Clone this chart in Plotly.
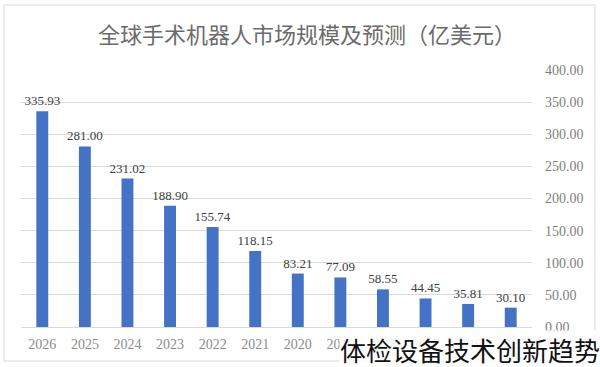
import plotly.graph_objects as go

years = ["2015", "2016", "2017", "2018", "2019", "2020", "2021", "2022", "2023", "2024", "2025", "2026"]
values = [30.10, 35.81, 44.45, 58.55, 77.09, 83.21, 118.15, 155.74, 188.90, 231.02, 281.00, 335.93]
title_text = "全球手术机器人市场规模及预测（亿美元）"
watermark = "体检设备技术创新趋势"

fig = go.Figure()
fig.add_trace(go.Bar(
    x=years, y=values,
    marker=dict(color="#4472C4", line=dict(width=0)),
    text=[f"{v:.2f}" for v in values],
    textposition="outside",
    constraintext="none",
    textfont=dict(size=13, color="#404040", family="Liberation Serif"),
    cliponaxis=False,
))

fig.update_layout(
    width=600, height=367,
    margin=dict(l=21, r=68, t=70, b=40),
    paper_bgcolor="white", plot_bgcolor="white",
    bargap=0.72,
    showlegend=False,
    title=dict(text=title_text, x=(307) / 600, xanchor="center", y=1 - 35 / 367, yanchor="middle",
               font=dict(size=22, color="#6b6b6b", family="Noto Sans CJK SC")),
    xaxis=dict(autorange="reversed", showgrid=False, showline=True, linecolor="#d9d9d9",
               ticks="", ticklabelstandoff=4,
               tickfont=dict(size=14, color="#8c8c8c", family="Liberation Serif")),
    yaxis=dict(side="right", range=[0, 400], dtick=50, tickformat=".2f",
               showgrid=True, gridcolor="#d9d9d9", zeroline=False, showline=False,
               ticks="", ticklabelstandoff=12,
               tickfont=dict(size=14, color="#7f7f7f", family="Liberation Serif")),
)

fig.add_shape(type="rect", xref="paper", yref="paper",
              x0=(4 - 21) / 511, x1=(595 - 21) / 511,
              y0=(327 - 361) / 257, y1=(327 - 5) / 257,
              line=dict(color="#d9d9d9", width=1), fillcolor="rgba(0,0,0,0)", layer="below")

fig.add_annotation(text=watermark, xref="paper", yref="paper",
                   x=(601 - 21) / 511, y=(327 - 349) / 257, xanchor="right", yanchor="middle",
                   showarrow=False, bgcolor="rgba(255,255,255,0.85)", borderpad=0,
                   font=dict(size=26, color="#111111", family="Noto Sans CJK SC"))

fig.write_html("out.html")
